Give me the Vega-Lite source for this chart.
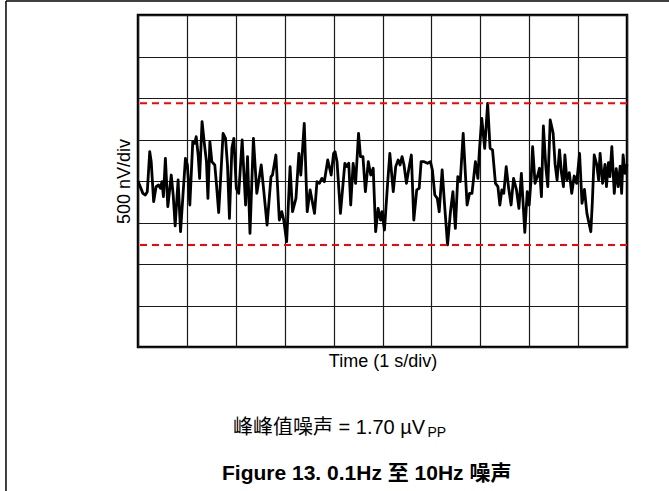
{
  "$schema": "https://vega.github.io/schema/vega-lite/v6.json",
  "width": 489,
  "height": 332,
  "autosize": "none",
  "padding": {"left": 138, "top": 15, "right": 42, "bottom": 144},
  "background": "white",
  "config": {
    "font": "Liberation Sans, Noto Sans CJK SC",
    "view": {"stroke": "#000000", "strokeWidth": 2.5}
  },
  "datasets": {
    "trace": [
      {"t": 0.00, "v": 0}, {"t": 0.10, "v": -149}, {"t": 0.15, "v": -169}, {"t": 0.19, "v": -129},
      {"t": 0.24, "v": 353}, {"t": 0.27, "v": 233}, {"t": 0.32, "v": -249}, {"t": 0.37, "v": -68},
      {"t": 0.42, "v": -48}, {"t": 0.46, "v": -88}, {"t": 0.49, "v": -8}, {"t": 0.52, "v": -189},
      {"t": 0.56, "v": 273}, {"t": 0.61, "v": -309}, {"t": 0.68, "v": 72}, {"t": 0.72, "v": -169},
      {"t": 0.76, "v": -540}, {"t": 0.82, "v": 12}, {"t": 0.87, "v": -611}, {"t": 0.92, "v": -169},
      {"t": 0.97, "v": 273}, {"t": 1.01, "v": 193}, {"t": 1.06, "v": -289}, {"t": 1.12, "v": 474},
      {"t": 1.16, "v": 454}, {"t": 1.19, "v": 534}, {"t": 1.23, "v": 313}, {"t": 1.26, "v": 32},
      {"t": 1.31, "v": 715}, {"t": 1.36, "v": 434}, {"t": 1.40, "v": 233}, {"t": 1.43, "v": -209},
      {"t": 1.47, "v": 474}, {"t": 1.51, "v": 233}, {"t": 1.57, "v": 193}, {"t": 1.60, "v": -8},
      {"t": 1.65, "v": -380}, {"t": 1.69, "v": 32}, {"t": 1.74, "v": 574}, {"t": 1.79, "v": 514},
      {"t": 1.83, "v": 193}, {"t": 1.87, "v": -450}, {"t": 1.92, "v": 394}, {"t": 1.96, "v": 514},
      {"t": 2.01, "v": -88}, {"t": 2.06, "v": -149}, {"t": 2.13, "v": 494}, {"t": 2.20, "v": -289},
      {"t": 2.24, "v": 293}, {"t": 2.29, "v": -631}, {"t": 2.36, "v": 514}, {"t": 2.43, "v": -149},
      {"t": 2.52, "v": 193}, {"t": 2.56, "v": -48}, {"t": 2.64, "v": -530}, {"t": 2.72, "v": 52},
      {"t": 2.75, "v": 72}, {"t": 2.82, "v": 313}, {"t": 2.89, "v": -470}, {"t": 2.94, "v": -370},
      {"t": 2.98, "v": -470}, {"t": 3.04, "v": -731}, {"t": 3.11, "v": 173}, {"t": 3.16, "v": -370},
      {"t": 3.23, "v": -209}, {"t": 3.29, "v": 333}, {"t": 3.33, "v": 72}, {"t": 3.40, "v": 695},
      {"t": 3.46, "v": -370}, {"t": 3.52, "v": -108}, {"t": 3.61, "v": -390}, {"t": 3.66, "v": -8},
      {"t": 3.71, "v": -28}, {"t": 3.76, "v": 32}, {"t": 3.81, "v": -8}, {"t": 3.88, "v": 253},
      {"t": 3.95, "v": 72}, {"t": 4.00, "v": 333}, {"t": 4.03, "v": 353}, {"t": 4.07, "v": 233},
      {"t": 4.14, "v": -390}, {"t": 4.23, "v": 213}, {"t": 4.27, "v": 173}, {"t": 4.31, "v": 213},
      {"t": 4.35, "v": -289}, {"t": 4.40, "v": 213}, {"t": 4.45, "v": -28}, {"t": 4.51, "v": 574},
      {"t": 4.55, "v": 293}, {"t": 4.60, "v": 293}, {"t": 4.65, "v": -129}, {"t": 4.71, "v": 233},
      {"t": 4.76, "v": 72}, {"t": 4.81, "v": 153}, {"t": 4.86, "v": -611}, {"t": 4.91, "v": -329},
      {"t": 4.96, "v": -470}, {"t": 4.99, "v": -370}, {"t": 5.04, "v": -590}, {"t": 5.10, "v": -68},
      {"t": 5.15, "v": 333}, {"t": 5.22, "v": -129}, {"t": 5.27, "v": 173}, {"t": 5.32, "v": 253},
      {"t": 5.36, "v": 193}, {"t": 5.40, "v": 293}, {"t": 5.44, "v": 193}, {"t": 5.49, "v": -28},
      {"t": 5.54, "v": 153}, {"t": 5.59, "v": 313}, {"t": 5.64, "v": -470}, {"t": 5.70, "v": -108},
      {"t": 5.75, "v": -88}, {"t": 5.79, "v": 233}, {"t": 5.85, "v": 233}, {"t": 5.92, "v": 213},
      {"t": 5.98, "v": 233}, {"t": 6.02, "v": 133}, {"t": 6.07, "v": -169}, {"t": 6.12, "v": -209},
      {"t": 6.16, "v": -370}, {"t": 6.22, "v": 133}, {"t": 6.27, "v": -289}, {"t": 6.33, "v": -770},
      {"t": 6.39, "v": -370}, {"t": 6.44, "v": -129}, {"t": 6.49, "v": -570}, {"t": 6.54, "v": 52},
      {"t": 6.59, "v": -8}, {"t": 6.65, "v": 574}, {"t": 6.70, "v": 32}, {"t": 6.73, "v": -289},
      {"t": 6.78, "v": -149}, {"t": 6.83, "v": -149}, {"t": 6.90, "v": 233}, {"t": 6.95, "v": 32},
      {"t": 6.98, "v": 353}, {"t": 7.03, "v": 755}, {"t": 7.09, "v": 394}, {"t": 7.15, "v": 936},
      {"t": 7.20, "v": 394}, {"t": 7.25, "v": 374}, {"t": 7.31, "v": -28}, {"t": 7.36, "v": -68},
      {"t": 7.40, "v": -289}, {"t": 7.44, "v": -108}, {"t": 7.48, "v": -149}, {"t": 7.53, "v": 173},
      {"t": 7.58, "v": -88}, {"t": 7.63, "v": -289}, {"t": 7.68, "v": 32}, {"t": 7.74, "v": -108},
      {"t": 7.79, "v": -329}, {"t": 7.84, "v": 92}, {"t": 7.91, "v": -620}, {"t": 7.96, "v": -129},
      {"t": 8.00, "v": -289}, {"t": 8.04, "v": 32}, {"t": 8.07, "v": 413}, {"t": 8.12, "v": -28},
      {"t": 8.17, "v": 60}, {"t": 8.21, "v": 153}, {"t": 8.25, "v": -189}, {"t": 8.29, "v": 663},
      {"t": 8.34, "v": 172}, {"t": 8.38, "v": -68}, {"t": 8.43, "v": 735}, {"t": 8.49, "v": 575},
      {"t": 8.53, "v": 200}, {"t": 8.57, "v": 12}, {"t": 8.62, "v": 374}, {"t": 8.66, "v": 96},
      {"t": 8.70, "v": -68}, {"t": 8.73, "v": 313}, {"t": 8.77, "v": 12}, {"t": 8.82, "v": 100},
      {"t": 8.87, "v": -149}, {"t": 8.92, "v": 60}, {"t": 8.97, "v": -28}, {"t": 9.03, "v": 334},
      {"t": 9.08, "v": -269}, {"t": 9.13, "v": -100}, {"t": 9.18, "v": -390}, {"t": 9.26, "v": -611},
      {"t": 9.29, "v": -269}, {"t": 9.33, "v": 313}, {"t": 9.38, "v": 200}, {"t": 9.42, "v": 12},
      {"t": 9.45, "v": 334}, {"t": 9.50, "v": -28}, {"t": 9.55, "v": 200}, {"t": 9.58, "v": -68},
      {"t": 9.62, "v": 220}, {"t": 9.65, "v": 52}, {"t": 9.69, "v": 413}, {"t": 9.74, "v": -149},
      {"t": 9.78, "v": 150}, {"t": 9.82, "v": -68}, {"t": 9.86, "v": 180}, {"t": 9.89, "v": -149},
      {"t": 9.92, "v": 313}, {"t": 9.96, "v": 92}, {"t": 10.00, "v": 200}
    ],
    "limits": [{"level": 936}, {"level": -770}]
  },
  "layer": [
    {
      "data": {"name": "trace"},
      "mark": {"type": "line", "color": "#000000", "strokeWidth": 2.8, "strokeJoin": "round"},
      "encoding": {
        "x": {
          "field": "t", "type": "quantitative",
          "scale": {"domain": [0, 10], "nice": false, "zero": false},
          "axis": {
            "values": [0, 1, 2, 3, 4, 5, 6, 7, 8, 9, 10],
            "grid": true, "gridColor": "#1a1a1a", "gridWidth": 1.2, "gridOpacity": 1,
            "labels": false, "ticks": false, "domain": false,
            "title": "Time (1 s/div)", "titleFontSize": 18, "titleFontWeight": "normal",
            "titleColor": "#000000", "titlePadding": 5, "titleFont": "Liberation Sans"
          }
        },
        "y": {
          "field": "v", "type": "quantitative",
          "scale": {"domain": [-2000, 2000], "nice": false, "zero": false},
          "axis": {
            "values": [-2000, -1500, -1000, -500, 0, 500, 1000, 1500, 2000],
            "grid": true, "gridColor": "#1a1a1a", "gridWidth": 1.2, "gridOpacity": 1,
            "labels": false, "ticks": false, "domain": false,
            "title": "500 nV/div", "titleFontSize": 18, "titleFontWeight": "normal",
            "titleColor": "#000000", "titlePadding": 5, "titleFont": "Liberation Sans"
          }
        }
      }
    },
    {
      "data": {"name": "limits"},
      "mark": {"type": "rule", "color": "#ff0000", "strokeWidth": 2, "strokeDash": [7, 5]},
      "encoding": {"y": {"field": "level", "type": "quantitative"}}
    },
    {
      "data": {"values": [{}]},
      "mark": {"type": "rule", "color": "#000000", "strokeWidth": 1.5},
      "encoding": {
        "x": {"datum": -2.7, "type": "quantitative"},
        "y": {"datum": 2169, "type": "quantitative"},
        "y2": {"datum": -3800}
      }
    },
    {
      "data": {"values": [{}]},
      "mark": {"type": "rule", "color": "#000000", "strokeWidth": 1.5},
      "encoding": {
        "x": {"datum": -2.7, "type": "quantitative"},
        "x2": {"datum": 11},
        "y": {"datum": 2169, "type": "quantitative"}
      }
    },
    {
      "data": {"values": [{}]},
      "mark": {"type": "text", "text": "峰峰值噪声 = 1.70 µV", "font": "Liberation Sans, Noto Sans CJK SC", "fontSize": 20, "align": "left", "baseline": "alphabetic", "color": "#000000"},
      "encoding": {
        "x": {"datum": 1.943, "type": "quantitative"},
        "y": {"datum": -3048, "type": "quantitative"}
      }
    },
    {
      "data": {"values": [{}]},
      "mark": {"type": "text", "text": "PP", "font": "Liberation Sans", "fontSize": 14, "align": "left", "baseline": "alphabetic", "color": "#000000"},
      "encoding": {
        "x": {"datum": 5.92, "type": "quantitative"},
        "y": {"datum": -3090, "type": "quantitative"}
      }
    },
    {
      "data": {"values": [{}]},
      "mark": {"type": "text", "text": "Figure 13. 0.1Hz 至 10Hz 噪声", "font": "Liberation Sans, Noto Sans CJK SC", "fontSize": 21, "fontWeight": "bold", "align": "left", "baseline": "alphabetic", "color": "#000000"},
      "encoding": {
        "x": {"datum": 1.718, "type": "quantitative"},
        "y": {"datum": -3600, "type": "quantitative"}
      }
    }
  ]
}
